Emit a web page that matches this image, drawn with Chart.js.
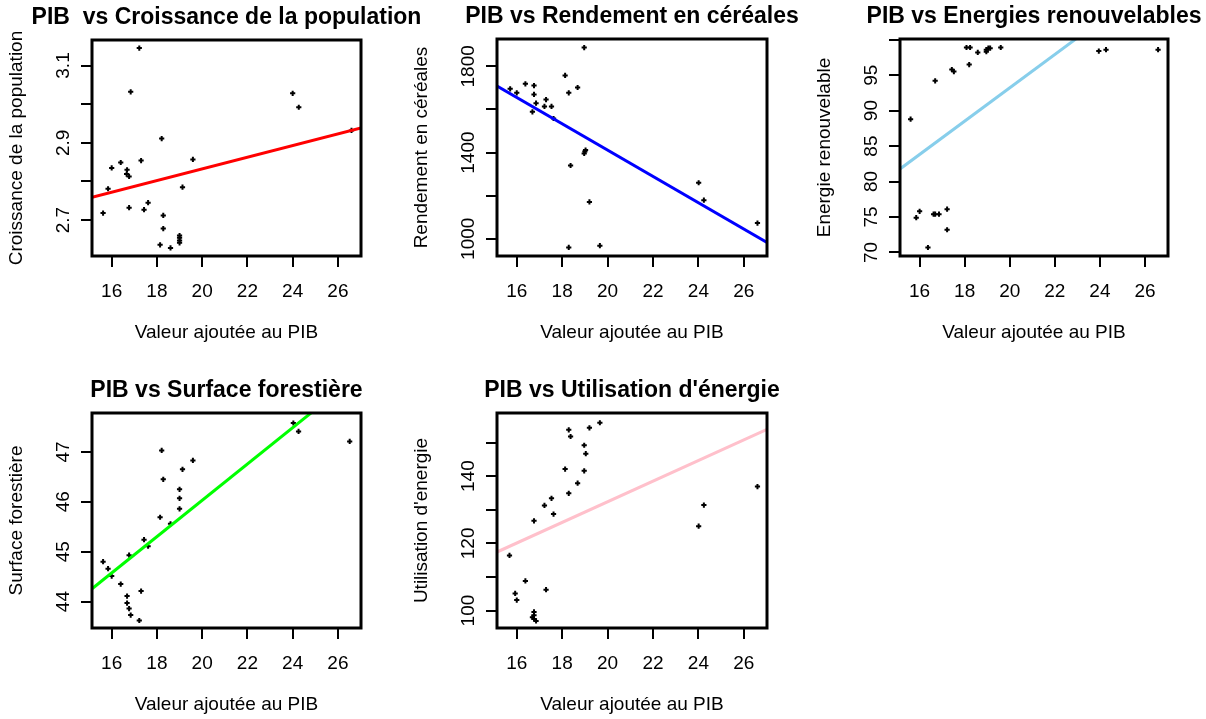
<!DOCTYPE html>
<html>
<head>
<meta charset="utf-8">
<script src="https://cdn.jsdelivr.net/npm/chart.js@4.4.1/dist/chart.umd.min.js"></script>
<style>
  body { margin: 0; background: #fff; width: 1206px; height: 719px; position: relative; overflow: hidden; }
  canvas { position: absolute; left: 0; top: 0; }
</style>
</head>
<body>
<script>
// common x axis (Valeur ajoutée au PIB)
const xTicks = [16, 18, 20, 22, 24, 26];
const xRange = [15.13, 27.02];
const xTitle = 'Valeur ajoutée au PIB';

// PIB vs Croissance de la population
const popPoints = [[15.62,2.718],[15.84,2.781],[16.0,2.835],[16.4,2.849],[16.68,2.830],[16.66,2.819],[16.77,2.813],
  [16.84,3.032],[16.77,2.732],[17.22,3.145],[17.3,2.854],[17.43,2.727],[17.61,2.745],[18.21,2.911],[18.28,2.712],
  [18.28,2.678],[18.14,2.636],[18.6,2.628],[19.0,2.660],[19.0,2.654],[19.0,2.647],[19.0,2.641],[19.13,2.785],
  [19.59,2.857],[24.0,3.028],[24.27,2.992],[26.6,2.932]];
const popRange = [2.607, 3.166];
const popTicks = [2.7, 2.8, 2.9, 3.0, 3.1];
const popLabels = ['2.7', '', '2.9', '', '3.1'];
const popFit = [2.531, 0.01507];

// PIB vs Rendement en céréales
const cerPoints = [[15.71,1696],[16.0,1677],[16.38,1719],[16.76,1711],[16.76,1670],[16.85,1629],[16.69,1589],
  [17.22,1614],[17.29,1646],[17.53,1614],[17.62,1558],[18.13,1758],[18.29,1677],[18.37,1340],[18.29,960],
  [18.68,1702],[18.97,1887],[18.97,1396],[19.03,1412],[19.0,1405],[19.2,1171],[19.66,968],[24.01,1260],
  [24.24,1179],[26.6,1073]];
const cerRange = [920, 1927];
const cerTicks = [1000, 1200, 1400, 1600, 1800];
const cerLabels = ['1000', '', '1400', '', '1800'];
const cerFit = [2632.5, -61.06];

// PIB vs Energies renouvelables
const renPoints = [[15.6,88.8],[15.85,74.9],[16.0,75.8],[16.37,70.7],[16.69,94.2],[16.62,75.4],[16.69,75.4],
  [16.86,75.4],[17.22,76.1],[17.22,73.2],[17.43,95.8],[17.52,95.5],[18.08,98.9],[18.24,98.9],[18.2,96.5],
  [18.58,98.2],[18.96,98.3],[18.96,98.6],[19.05,98.8],[19.13,98.8],[19.6,98.9],[23.95,98.4],[24.27,98.6],
  [26.58,98.6]];
const renRange = [69.5, 100.1];
const renTicks = [70, 75, 80, 85, 90, 95, 100];
const renLabels = ['70', '75', '80', '85', '90', '95', ''];
const renFit = [46.22, 2.35];

// PIB vs Surface forestière
const forPoints = [[15.62,44.80],[15.84,44.66],[16.0,44.51],[16.4,44.35],[16.68,44.11],[16.68,43.97],[16.77,43.86],
  [16.84,43.73],[16.77,44.93],[17.22,43.62],[17.3,44.21],[17.43,45.24],[17.61,45.11],[18.21,47.03],[18.28,46.45],
  [18.14,45.69],[18.6,45.56],[19.0,46.25],[19.0,46.07],[19.0,45.86],[19.13,46.65],[19.59,46.83],[24.03,47.58],
  [24.26,47.41],[26.52,47.21]];
const forRange = [43.47, 47.78];
const forTicks = [44, 45, 46, 47];
const forLabels = ['44', '45', '46', '47'];
const forFit = [38.75, 0.364];

// PIB vs Utilisation d'énergie
const nrjPoints = [[15.68,116.4],[15.93,105.1],[16.0,103.1],[16.38,108.8],[16.76,99.6],[16.69,98.0],[16.76,97.5],
  [16.85,96.9],[16.76,98.6],[16.76,126.7],[17.29,106.2],[17.22,131.3],[17.53,133.4],[17.62,128.7],[18.13,142.1],
  [18.29,153.8],[18.37,151.8],[18.29,134.9],[18.68,137.9],[18.97,149.2],[19.04,146.7],[18.97,141.6],[19.2,154.4],
  [19.66,155.9],[24.01,125.1],[24.24,131.4],[26.6,136.9]];
const nrjRange = [94.8, 158.8];
const nrjTicks = [100, 110, 120, 130, 140, 150];
const nrjLabels = ['100', '', '120', '', '140', ''];
const nrjFit = [70.97, 3.07];

const W = 1206, H = 719;
const FONT = '"Liberation Sans", Arial, sans-serif';

const panels = [
  { title: 'PIB  vs Croissance de la population', ylab: 'Croissance de la population', pts: popPoints, yr: popRange,
    ticks: popTicks, labels: popLabels, fit: popFit, color: '#ff0000', box: [92, 40, 361, 256] },
  { title: 'PIB vs Rendement en céréales', ylab: 'Rendement en céréales', pts: cerPoints, yr: cerRange,
    ticks: cerTicks, labels: cerLabels, fit: cerFit, color: '#0000ff', box: [497, 39, 767, 256] },
  { title: 'PIB vs Energies renouvelables', ylab: 'Energie renouvelable', pts: renPoints, yr: renRange,
    ticks: renTicks, labels: renLabels, fit: renFit, color: '#87ceeb', box: [900, 39, 1168, 256] },
  { title: 'PIB vs Surface forestière', ylab: 'Surface forestière', pts: forPoints, yr: forRange,
    ticks: forTicks, labels: forLabels, fit: forFit, color: '#00ff00', box: [92, 413, 361, 628] },
  { title: "PIB vs Utilisation d'énergie", ylab: "Utilisation d'energie", pts: nrjPoints, yr: nrjRange,
    ticks: nrjTicks, labels: nrjLabels, fit: nrjFit, color: '#ffc0cb', box: [497, 413, 767, 628] }
];

// R style frame: box, outward ticks, labels, titles
const rFrame = {
  id: 'rFrame',
  afterDraw(chart, args, opts) {
    const ctx = chart.ctx;
    const a = chart.chartArea;
    const xs = chart.scales.x, ys = chart.scales.y;
    const p = opts.panel;
    ctx.save();
    ctx.strokeStyle = '#000';
    ctx.fillStyle = '#000';

    ctx.lineWidth = 3;
    ctx.strokeRect(a.left, a.top, a.right - a.left, a.bottom - a.top);

    ctx.lineWidth = 2;
    ctx.beginPath();
    xTicks.forEach(t => {
      const px = Math.round(xs.getPixelForValue(t));
      ctx.moveTo(px, a.bottom);
      ctx.lineTo(px, a.bottom + 11);
    });
    p.ticks.forEach(t => {
      const py = Math.round(ys.getPixelForValue(t));
      ctx.moveTo(a.left, py);
      ctx.lineTo(a.left - 11, py);
    });
    ctx.stroke();

    ctx.font = '19px ' + FONT;
    ctx.textAlign = 'center';
    ctx.textBaseline = 'middle';
    xTicks.forEach(t => ctx.fillText(String(t), xs.getPixelForValue(t), a.bottom + 36));
    p.ticks.forEach((t, i) => {
      if (!p.labels[i]) return;
      ctx.save();
      ctx.translate(a.left - 28, ys.getPixelForValue(t));
      ctx.rotate(-Math.PI / 2);
      ctx.fillText(p.labels[i], 0, 0);
      ctx.restore();
    });

    const cx = (a.left + a.right) / 2, cy = (a.top + a.bottom) / 2;
    ctx.fillText(xTitle, cx, a.bottom + 77);
    ctx.save();
    ctx.translate(a.left - 75, cy);
    ctx.rotate(-Math.PI / 2);
    ctx.fillText(p.ylab, 0, 0);
    ctx.restore();

    ctx.font = 'bold 23px ' + FONT;
    ctx.fillText(p.title, cx, a.top - 22);
    ctx.restore();
  }
};

panels.forEach(p => {
  const cv = document.createElement('canvas');
  cv.width = W; cv.height = H;
  document.body.appendChild(cv);
  const [l, t, r, b] = p.box;
  new Chart(cv, {
    type: 'scatter',
    data: {
      datasets: [
        {
          type: 'line',
          data: xRange.map(x => ({ x: x, y: p.fit[0] + p.fit[1] * x })),
          borderColor: p.color,
          borderWidth: 3,
          pointRadius: 0,
          fill: false,
          order: 0
        },
        {
          type: 'scatter',
          data: p.pts.map(d => ({ x: d[0], y: d[1] })),
          pointStyle: 'cross',
          pointRadius: 2.6,
          borderWidth: 2,
          borderColor: '#000',
          backgroundColor: '#000',
          order: 1
        }
      ]
    },
    options: {
      responsive: false,
      animation: false,
      devicePixelRatio: 1,
      layout: { padding: { left: l, top: t, right: W - r, bottom: H - b } },
      plugins: { legend: { display: false }, tooltip: { enabled: false }, rFrame: { panel: p } },
      scales: {
        x: { type: 'linear', min: xRange[0], max: xRange[1], display: false },
        y: { type: 'linear', min: p.yr[0], max: p.yr[1], display: false }
      }
    },
    plugins: [rFrame]
  });
});
</script>
</body>
</html>
